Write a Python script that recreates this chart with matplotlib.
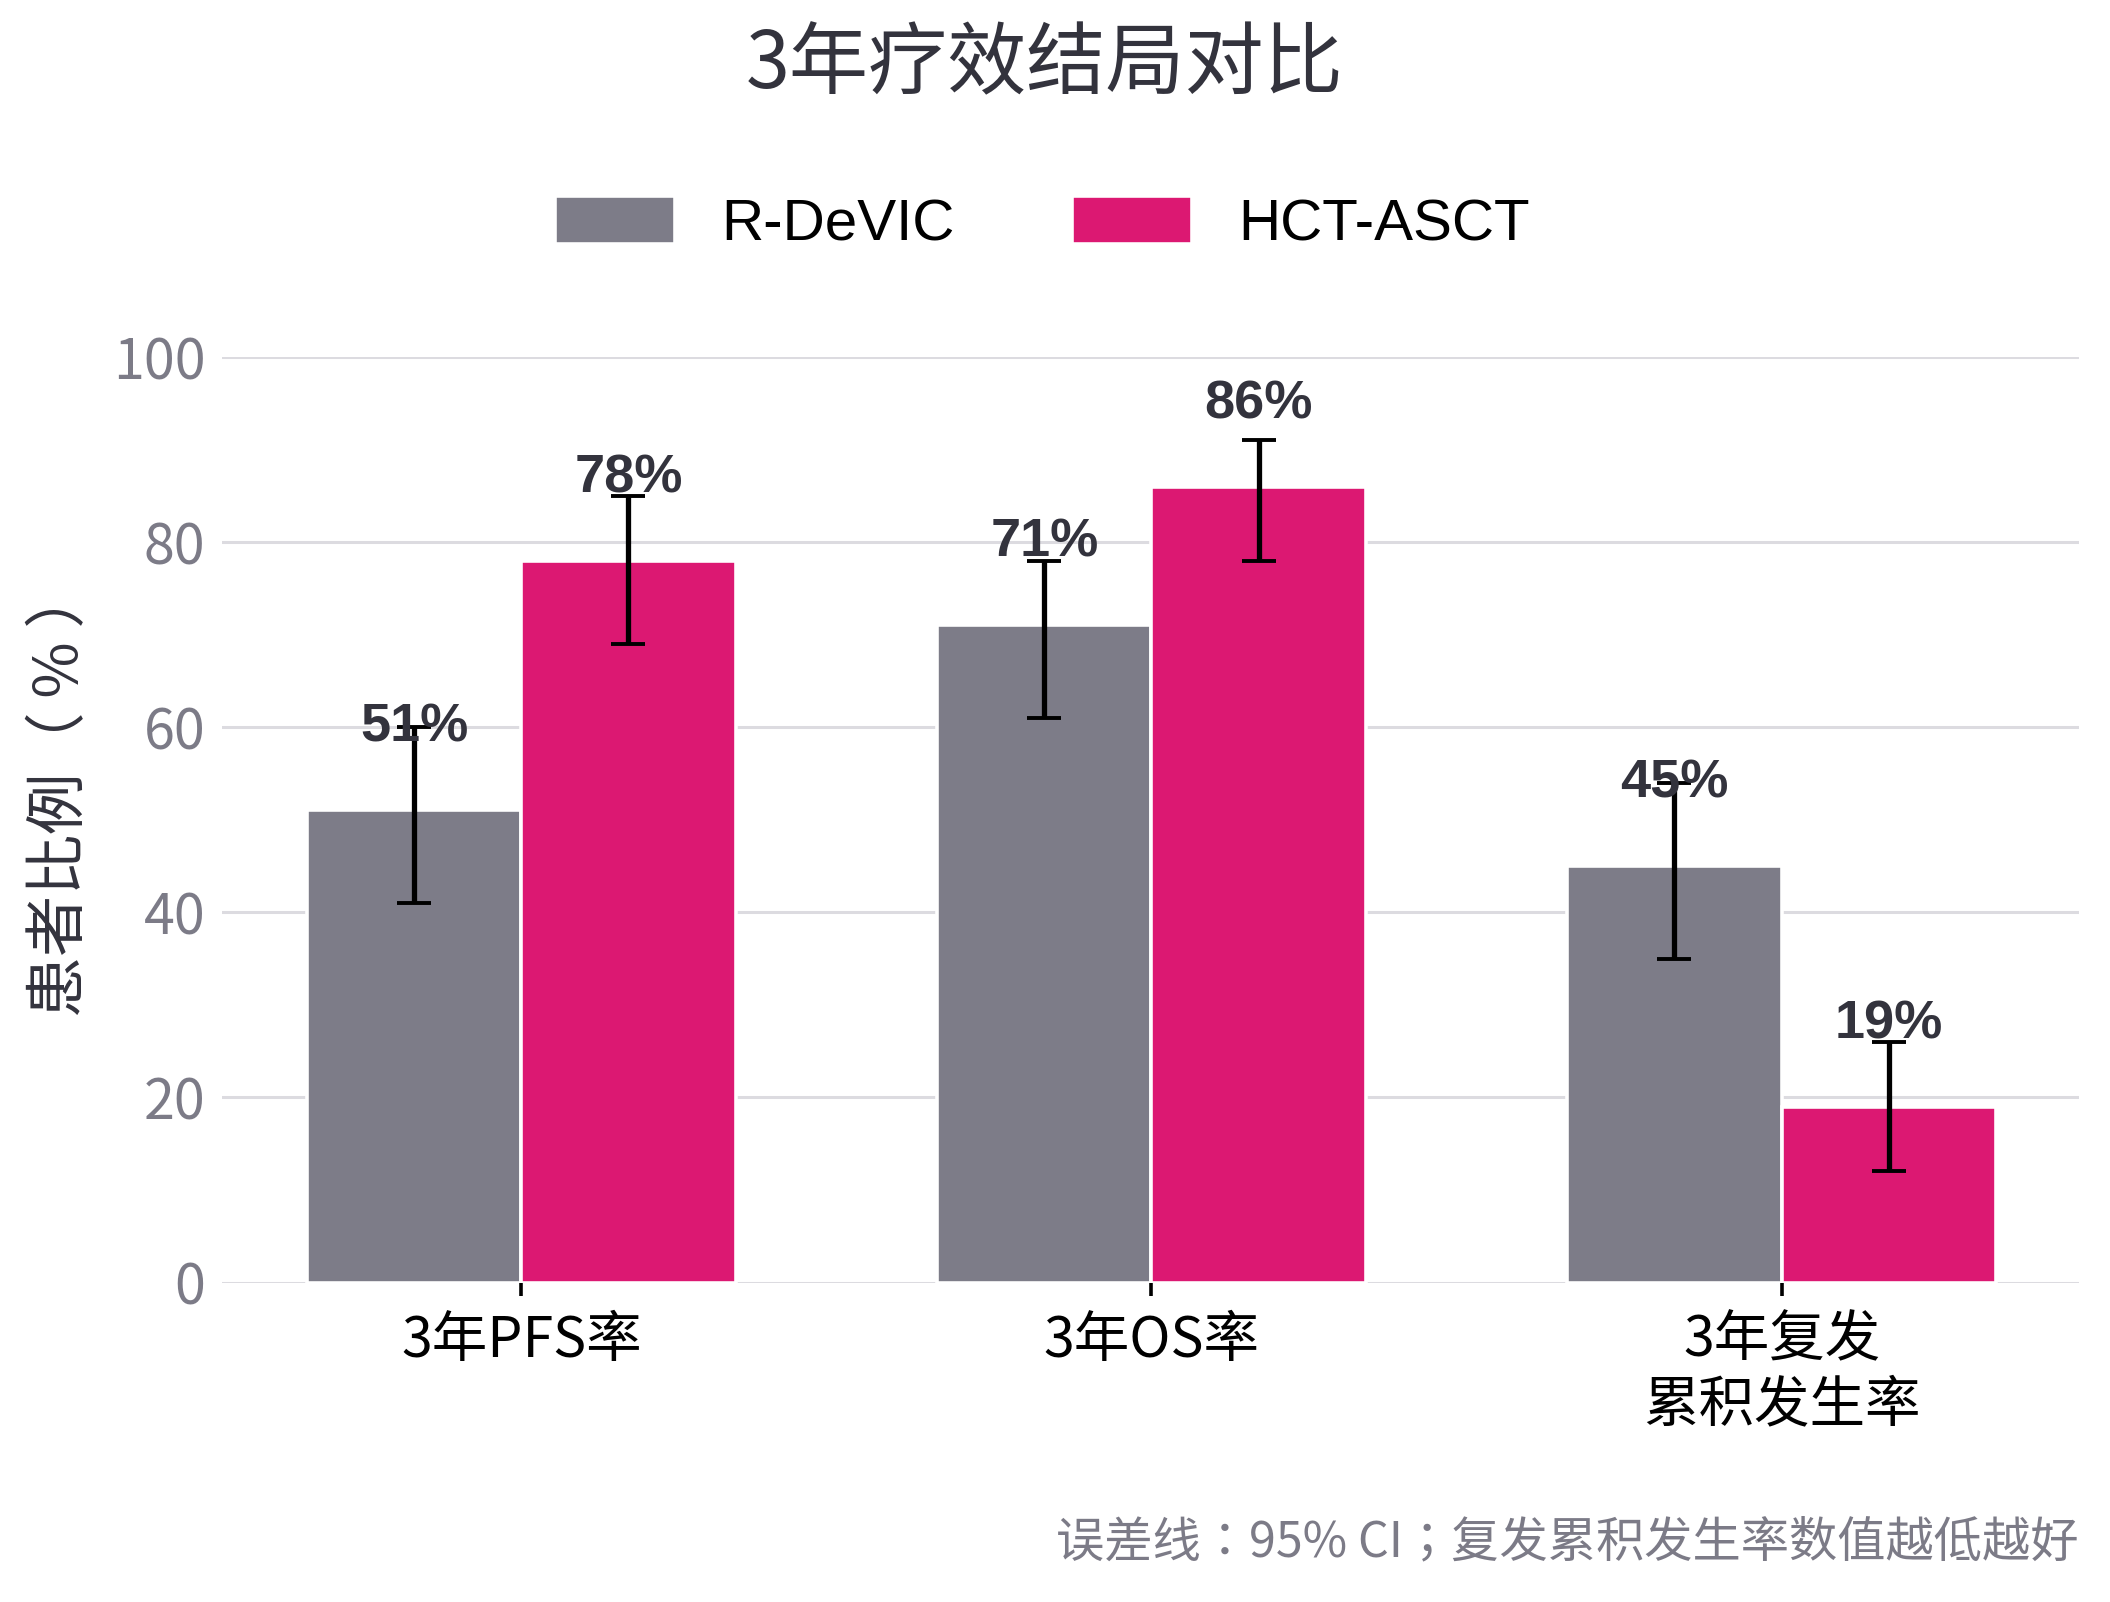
import matplotlib
matplotlib.use("Agg")
import matplotlib.pyplot as plt
import numpy as np

# ---- data ----
categories = ["3年PFS率", "3年OS率", "3年复发\n累积发生率"]
series_names = ["R-DeVIC", "HCT-ASCT"]
rdevic_vals = [51, 71, 45]
rdevic_lo = [41, 61, 35]
rdevic_hi = [60, 78, 54]
hct_vals = [78, 86, 19]
hct_lo = [69, 78, 12]
hct_hi = [85, 91, 26]
yticks = [0, 20, 40, 60, 80, 100]

title = "3年疗效结局对比"
ylabel = "患者比例（ % ）"
footnote = "误差线：95% CI；复发累积发生率数值越低越好"

# ---- style ----
CJK = ["Noto Sans CJK SC", "DejaVu Sans"]
CJK_TC = ["Noto Sans CJK TC", "DejaVu Sans"]
LAT = ["Liberation Sans", "DejaVu Sans"]
plt.rcParams['font.family'] = CJK
GRAY = "#7d7c88"
PINK = "#dc1872"
DARK = "#33333d"
TICKGRAY = "#7c7b87"
GRID = "#dcdbe0"

fig = plt.figure(figsize=(10.55, 8.01), dpi=200)
ax = fig.add_axes([0.1052, 0.1994, 0.8801, 0.5778])

x = np.arange(len(categories))
w = 0.34
xg = x - w / 2
xp = x + w / 2

ax.bar(xg, rdevic_vals, width=w, color=GRAY, edgecolor="white", linewidth=1.3, zorder=2, label=series_names[0])
ax.bar(xp, hct_vals, width=w, color=PINK, edgecolor="white", linewidth=1.3, zorder=2, label=series_names[1])

for xs, vals, lo, hi in [(xg, rdevic_vals, rdevic_lo, rdevic_hi), (xp, hct_vals, hct_lo, hct_hi)]:
    vals = np.array(vals); lo = np.array(lo); hi = np.array(hi)
    ax.errorbar(xs, vals, yerr=[vals - lo, hi - vals], fmt="none", ecolor="black",
                elinewidth=1.9, capsize=6.1, capthick=1.4, zorder=3)
    for xi, v in zip(xs, vals):
        ax.text(xi, v + 7.4, f"{v}%", ha="center", va="baseline", fontsize=19.5,
                fontweight="bold", color=DARK, family=LAT, zorder=4)

ax.set_xlim(-0.475, 2.472)
ax.set_ylim(0, 100)
ax.set_yticks(yticks)
ax.set_yticklabels([str(t) for t in yticks])
ax.set_xticks(x)
ax.set_xticklabels(categories, linespacing=1.15)

ax.yaxis.grid(True, color=GRID, linewidth=1.1, zorder=0)
ax.set_axisbelow(True)
for s in ax.spines.values():
    s.set_visible(False)

ax.tick_params(axis="y", length=0, pad=6, labelsize=20, labelcolor=TICKGRAY)
ax.tick_params(axis="x", length=4.7, width=1.3, color="black", pad=6, labelsize=20, labelcolor="black")

fig.text(0.495, 0.959, title, ha="center", va="center", fontsize=28.5, color=DARK)
fig.text(0.029, 0.506, ylabel, ha="center", va="center", rotation=90, fontsize=22, color=DARK,
         family=CJK_TC)
fig.text(0.9853, 0.0368, footnote, ha="right", va="center", fontsize=17.4, color=TICKGRAY,
         family=CJK_TC)

handles, labels = ax.get_legend_handles_labels()
leg = fig.legend(handles, labels, loc="center", bbox_to_anchor=(0.494, 0.860), ncol=2,
                 frameon=False, prop={"family": LAT, "size": 21},
                 handlelength=2.06, handleheight=0.88, handletextpad=0.8, columnspacing=2.0)

fig.savefig("out.png", dpi=200)
